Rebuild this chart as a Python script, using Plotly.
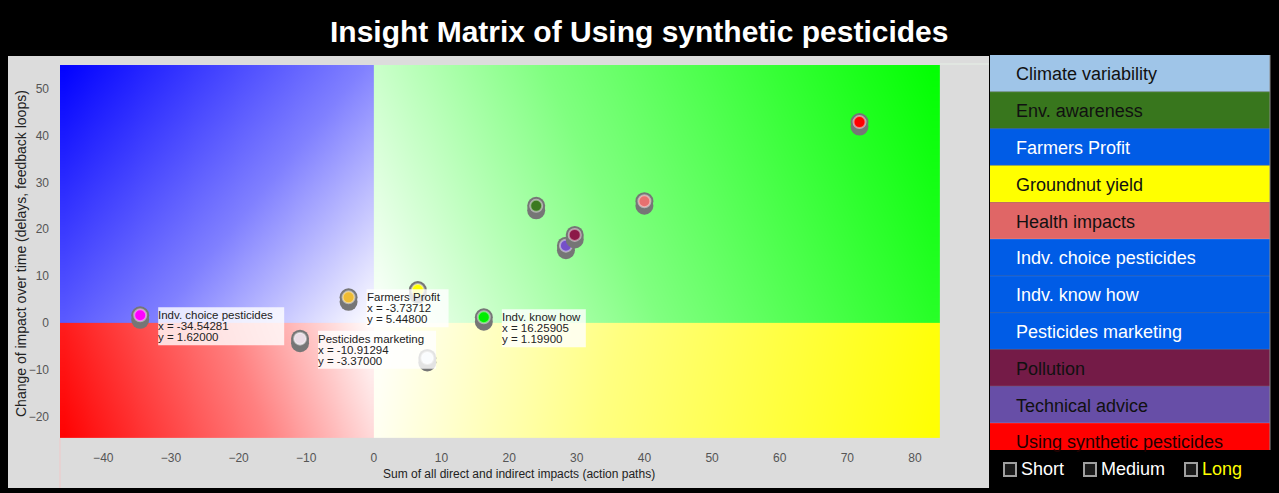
import numpy as np
import plotly.graph_objects as go

# ---------------- data ----------------
names = ["Climate variability", "Env. awareness", "Farmers Profit", "Groundnut yield",
         "Health impacts", "Indv. choice pesticides", "Indv. know how",
         "Pesticides marketing", "Technical advice", "Pollution",
         "Using synthetic pesticides"]
x_vals = [7.9, 24.0, -3.73712, 6.5, 40.0, -34.54281, 16.25905, -10.91294, 28.4, 29.7, 71.8]
y_vals = [-7.5, 25.0, 5.448, 7.0, 26.0, 1.62, 1.199, -3.37, 16.5, 18.8, 42.9]
dot_colors = ["#e6eefb", "#3c7a20", "#eebb33", "#ffff00", "#e87070", "#ff00ff",
              "#00ee00", "#eadde6", "#7550c8", "#8c1848", "#ff0000"]
labeled = ["Indv. choice pesticides", "Farmers Profit", "Pesticides marketing", "Indv. know how"]
label_box_w = [126, 82, 118, 84]

legend_names = ["Climate variability", "Env. awareness", "Farmers Profit", "Groundnut yield",
                "Health impacts", "Indv. choice pesticides", "Indv. know how",
                "Pesticides marketing", "Pollution", "Technical advice",
                "Using synthetic pesticides"]
legend_colors = ["#9fc5e8", "#38761d", "#005ce6", "#ffff00", "#e06666", "#005ce6",
                 "#005ce6", "#005ce6", "#741b47", "#674ea7", "#ff0000"]
legend_text_colors = ["#111111", "#111111", "#ffffff", "#111111", "#111111", "#ffffff",
                      "#ffffff", "#ffffff", "#111111", "#111111", "#220000"]
horizon_labels = ["Short", "Medium", "Long"]
horizon_colors = ["#ffffff", "#ffffff", "#ffff00"]

x_ticks = list(range(-40, 90, 10))
y_ticks = list(range(-20, 60, 10))
x_range = [-46.4, 83.7]
y_range = [-24.6, 55.1]

title = "Insight Matrix of Using synthetic pesticides"
x_title = "Sum of all direct and indirect impacts (action paths)"
y_title = "Change of impact over time (delays, feedback loops)"

FONT = "Arial, Liberation Sans, sans-serif"

# ---------------- layout geometry (pixels) ----------------
W, H = 1279, 493
L, R, T, B = 60, 940, 65, 438
PW, PH = R - L, B - T
sx = PW / (x_range[1] - x_range[0])
sy = PH / (y_range[1] - y_range[0])


def px(p):
    return (p - L) / PW


def py(p):
    return (B - p) / PH


fig = go.Figure()

# ---------------- quadrant gradients ----------------
quads = [
    (x_range[0], 0, 0, y_range[1], "#0000ff", "#8080ff"),
    (0, x_range[1], 0, y_range[1], "#00ff00", "#80ff80"),
    (x_range[0], 0, y_range[0], 0, "#ff0000", "#ff8080"),
    (0, x_range[1], y_range[0], 0, "#ffff00", "#ffff80"),
]
for x0, x1, y0, y1, col, mid in quads:
    n = 40
    xe = np.linspace(x0, x1, n + 1)
    ye = np.linspace(y0, y1, n + 1)
    xc = (xe[:-1] + xe[1:]) / 2
    yc = (ye[:-1] + ye[1:]) / 2
    cx = x0 if abs(x0) > abs(x1) else x1
    cy = y0 if abs(y0) > abs(y1) else y1
    dx, dy = cx * sx, cy * sy
    XX, YY = np.meshgrid(xc * sx, yc * sy)
    z = (XX * dx + YY * dy) / (dx * dx + dy * dy)
    z = np.clip(z, 0, 1)
    fig.add_trace(go.Heatmap(x=xe, y=ye, z=z, zmin=0, zmax=1, zsmooth="best",
                             colorscale=[[0, "#ffffff"], [0.42, mid], [1, col]],
                             showscale=False, hoverinfo="skip"))

# ---------------- markers ----------------
off = 4.5 / sy
for name, xv, yv, c in zip(names, x_vals, y_vals, dot_colors):
    fig.add_trace(go.Scatter(x=[xv, xv], y=[yv - off, yv], mode="markers",
                             marker=dict(size=18, color="#767676", line=dict(width=0)),
                             hoverinfo="skip", showlegend=False))
    fig.add_trace(go.Scatter(x=[xv], y=[yv], mode="markers", name=name,
                             marker=dict(size=12, color=c,
                                         line=dict(width=2, color="rgba(255,255,255,0.45)")),
                             showlegend=False))

shapes = []
annotations = []

# ---------------- point labels ----------------
LINE = 11
for lab, bw in zip(labeled, label_box_w):
    i = names.index(lab)
    xv, yv = x_vals[i], y_vals[i]
    shapes.append(dict(type="rect", xref="x", yref="y", xsizemode="pixel", ysizemode="pixel",
                       xanchor=xv, yanchor=yv, x0=18, x1=18 + bw, y0=8, y1=-(2 * LINE + 8),
                       fillcolor="rgba(255,255,255,0.8)", line=dict(width=0), layer="above"))
    for k, line in enumerate([lab, f"x = {xv:.5f}", f"y = {yv:.5f}"]):
        annotations.append(dict(x=xv, y=yv, xref="x", yref="y", text=line, showarrow=False,
                                xanchor="left", yanchor="middle", xshift=17, yshift=-LINE * k,
                                borderpad=0,
                                font=dict(family=FONT, size=11.5, color="#222222")))

# ---------------- grey panel ----------------
shapes.insert(0, dict(type="rect", xref="paper", yref="paper", x0=px(8), x1=px(989),
                      y0=py(488), y1=py(56), fillcolor="#dcdcdc", line=dict(width=0),
                      layer="below"))
shapes.append(dict(type="line", xref="paper", yref="paper", x0=px(60), x1=px(60),
                   y0=py(488), y1=py(438), line=dict(color="#f0c8c8", width=1)))
shapes.append(dict(type="line", xref="paper", yref="paper", x0=px(940), x1=px(989),
                   y0=py(64), y1=py(64), line=dict(color="#e6f0e6", width=1)))

# ---------------- legend panel ----------------
item_h = 36.8
top = 55
for j, (nm, col, tcol) in enumerate(zip(legend_names, legend_colors, legend_text_colors)):
    y0p = top + j * item_h
    y1p = min(y0p + item_h, 450)
    shapes.append(dict(type="rect", xref="paper", yref="paper", x0=px(990), x1=px(1270),
                       y0=py(y1p), y1=py(y0p), fillcolor=col, line=dict(width=0),
                       layer="below"))
    if j > 0:
        shapes.append(dict(type="line", xref="paper", yref="paper", x0=px(990), x1=px(1270),
                           y0=py(y0p), y1=py(y0p),
                           line=dict(color="rgba(255,255,255,0.18)", width=1)))
    annotations.append(dict(x=px(1014), y=py(y0p + item_h / 2 + 1), xref="paper", yref="paper",
                            text=nm, showarrow=False, xanchor="left", yanchor="middle",
                            font=dict(family=FONT, size=18, color=tcol)))
shapes.append(dict(type="line", xref="paper", yref="paper", x0=px(1270), x1=px(1270),
                   y0=py(450), y1=py(55), line=dict(color="#8a8a8a", width=1)))

# ---------------- horizon checkboxes ----------------
box_x = [1004, 1084, 1185]
for bx, lab, col in zip(box_x, horizon_labels, horizon_colors):
    shapes.append(dict(type="rect", xref="paper", yref="paper", x0=px(bx), x1=px(bx + 12),
                       y0=py(476), y1=py(463), fillcolor="#1a1a1a",
                       line=dict(color="#a0a0a0", width=2)))
    annotations.append(dict(x=px(bx + 15), y=py(469), xref="paper", yref="paper", text=lab,
                            showarrow=False, xanchor="left", yanchor="middle",
                            font=dict(family=FONT, size=18, color=col)))

# ---------------- titles ----------------
annotations.append(dict(x=px(639), y=py(32), xref="paper", yref="paper", text=f"<b>{title}</b>",
                        showarrow=False, xanchor="center", yanchor="middle",
                        font=dict(family=FONT, size=30, color="#ffffff")))
annotations.append(dict(x=px(519), y=py(474), xref="paper", yref="paper", text=x_title,
                        showarrow=False, xanchor="center", yanchor="middle",
                        font=dict(family=FONT, size=12, color="#222222")))
annotations.append(dict(x=px(21), y=py(254), xref="paper", yref="paper", text=y_title,
                        showarrow=False, xanchor="center", yanchor="middle", textangle=-90,
                        font=dict(family=FONT, size=14, color="#222222")))

fig.update_layout(
    width=W, height=H,
    margin=dict(l=L, r=W - R, t=T, b=H - B),
    paper_bgcolor="#000000", plot_bgcolor="#dcdcdc",
    showlegend=False,
    shapes=shapes, annotations=annotations,
    xaxis=dict(range=x_range, tickvals=x_ticks, showgrid=False, zeroline=False,
               showline=False, ticks="", ticklabelstandoff=11,
               tickfont=dict(family=FONT, size=12, color="#555555")),
    yaxis=dict(range=y_range, tickvals=y_ticks, showgrid=False, zeroline=False,
               showline=False, ticks="", ticklabelstandoff=10,
               tickfont=dict(family=FONT, size=12, color="#555555")),
)

fig.write_html("out.html")
